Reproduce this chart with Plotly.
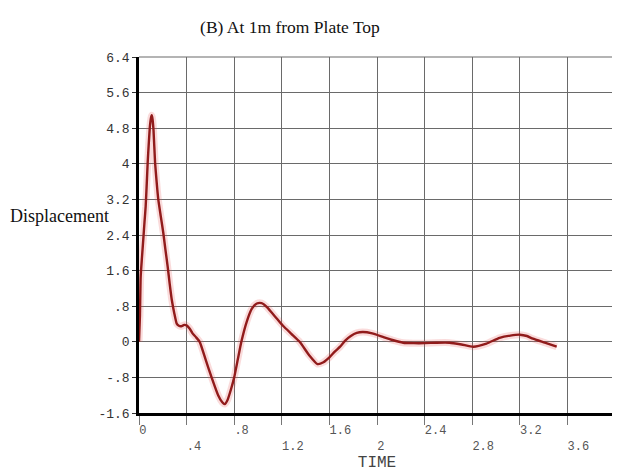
import plotly.graph_objects as go

# Data
time = [0.0, 0.004, 0.008, 0.014, 0.025, 0.036, 0.046, 0.056, 0.065, 0.073, 0.082, 0.092,
        0.100, 0.107, 0.114, 0.122, 0.135, 0.148, 0.162, 0.183, 0.204, 0.222, 0.241,
        0.258, 0.275, 0.296, 0.317, 0.335, 0.355, 0.38, 0.40, 0.425, 0.45, 0.48, 0.51,
        0.56, 0.61, 0.665, 0.70, 0.72, 0.745, 0.775, 0.80, 0.83, 0.86, 0.905, 0.95,
        0.99, 1.03, 1.075, 1.12, 1.165, 1.21, 1.28, 1.35, 1.43, 1.50, 1.55, 1.60,
        1.645, 1.69, 1.735, 1.78, 1.83, 1.88, 1.96, 2.05, 2.13, 2.22, 2.31, 2.40,
        2.50, 2.61, 2.71, 2.81, 2.92, 3.03, 3.12, 3.20, 3.26, 3.31, 3.41, 3.51]
displacement = [0.0, 0.3, 0.6, 1.46, 1.9, 2.3, 2.68, 3.04, 3.55, 4.03, 4.45, 4.85,
                5.02, 5.09, 5.0, 4.75, 4.03, 3.6, 3.2, 2.82, 2.45, 2.07, 1.69,
                1.3, 0.95, 0.65, 0.41, 0.36, 0.35, 0.38, 0.37, 0.3, 0.19, 0.1, 0.0,
                -0.4, -0.8, -1.2, -1.36, -1.40, -1.3, -1.05, -0.8, -0.4, 0.0, 0.45, 0.75,
                0.86, 0.87, 0.78, 0.64, 0.5, 0.36, 0.18, 0.0, -0.3, -0.50, -0.46, -0.35,
                -0.22, -0.11, 0.03, 0.13, 0.2, 0.22, 0.19, 0.11, 0.04, -0.02, -0.03, -0.03,
                -0.02, -0.02, -0.06, -0.11, -0.04, 0.09, 0.14, 0.16, 0.13, 0.07, -0.02, -0.11]

x_ticks = [0, 0.4, 0.8, 1.2, 1.6, 2.0, 2.4, 2.8, 3.2, 3.6, 4.0]
x_tick_labels = ["0", ".4", ".8", "1.2", "1.6", "2", "2.4", "2.8", "3.2", "3.6", "4"]
y_ticks = [-1.6, -0.8, 0, 0.8, 1.6, 2.4, 3.2, 4.0, 4.8, 5.6, 6.4]
y_tick_labels = ["-1.6", "-.8", "0", ".8", "1.6", "2.4", "3.2", "4", "4.8", "5.6", "6.4"]

NB = "\u00a0"
x_text = []
for i, t in enumerate(x_tick_labels):
    padded = t + NB * (3 - len(t))
    x_text.append(padded if i % 2 == 0 else "<br>" + padded)

# page body has an 8px margin: figure is drawn at (8, 8)
W, H = 612, 465
fig = go.Figure()
fig.add_trace(go.Scatter(x=time, y=displacement, mode="lines",
                         line=dict(color="rgba(230,90,90,0.22)", width=7, shape="spline", smoothing=0.5),
                         hoverinfo="skip", showlegend=False))
fig.add_trace(go.Scatter(x=time, y=displacement, mode="lines",
                         line=dict(color="#911b1b", width=2.4, shape="spline", smoothing=0.5),
                         showlegend=False))

fig.update_layout(
    width=W, height=H,
    margin=dict(l=131, r=5, t=49, b=60, autoexpand=False),
    paper_bgcolor="white", plot_bgcolor="white",
    title=dict(text="(B) At 1m from Plate Top", x=(290 - 8) / W, xref="container",
               xanchor="center", y=1 - (27 - 8) / H, yanchor="middle",
               font=dict(family="Liberation Serif", size=17.5, color="#111")),
    xaxis=dict(range=[0, 4], tickvals=x_ticks, ticktext=x_text,
               showgrid=True, gridcolor="#6a6a6a", gridwidth=1.2,
               showline=True, linecolor="black", linewidth=2.6,
               ticks="outside", ticklen=9, tickcolor="#777", tickwidth=1,
               ticklabelshift=11, ticklabelstandoff=-5, ticklabeloverflow="allow",
               tickfont=dict(family="Liberation Mono", size=12, color="#555"),
               zeroline=False, automargin=False,
               title=dict(text="TIME", standoff=4,
                          font=dict(family="Liberation Mono", size=16, color="#444"))),
    yaxis=dict(range=[-1.6, 6.4], tickvals=y_ticks, ticktext=y_tick_labels,
               showgrid=True, gridcolor="#6a6a6a", gridwidth=1.2,
               showline=True, linecolor="black", linewidth=2.6,
               ticks="outside", ticklen=4, tickcolor="#333", tickwidth=1,
               tickfont=dict(family="Liberation Mono", size=13, color="#333"),
               zeroline=False, automargin=False),
    annotations=[dict(text="Displacement", xref="paper", yref="paper",
                      x=(59 - 139) / 476, y=(413 - 216) / 356,
                      xanchor="center", yanchor="middle", showarrow=False,
                      font=dict(family="Liberation Serif", size=18, color="#111"))],
    shapes=[dict(type="line", xref="paper", yref="paper", x0=0, x1=1, y0=1, y1=1,
                 line=dict(color="#6a6a6a", width=1.2), layer="below"),
            dict(type="line", xref="paper", yref="paper", x0=1, x1=1, y0=0, y1=1,
                 line=dict(color="#6a6a6a", width=1.2), layer="below")],
)

fig.write_html("out.html")
